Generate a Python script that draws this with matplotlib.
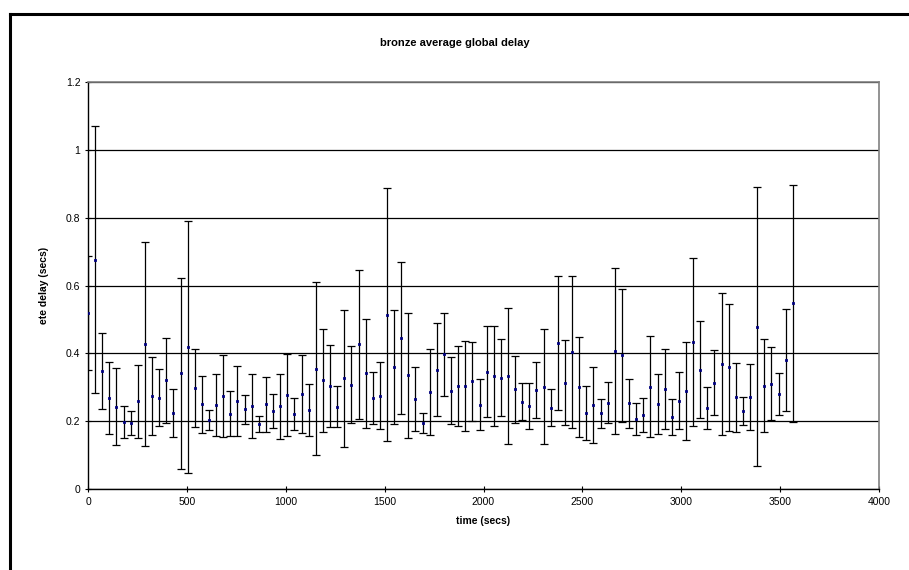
'''
bronze average global delay with error bars
'''

import matplotlib
matplotlib.use('Agg')
import matplotlib.pyplot as plt
from matplotlib.lines import Line2D
from matplotlib.ticker import FuncFormatter

plt.rcParams['font.family'] = ['Liberation Sans', 'DejaVu Sans']

time_secs = [0, 36, 72, 108, 144, 180, 216, 252, 288, 324,
             360, 396, 432, 468, 504, 540, 576, 612, 648, 684,
             720, 756, 792, 828, 864, 900, 936, 972, 1008, 1044,
             1080, 1116, 1152, 1188, 1224, 1260, 1296, 1332, 1368, 1404,
             1440, 1476, 1512, 1548, 1584, 1620, 1656, 1692, 1728, 1764,
             1800, 1836, 1872, 1908, 1944, 1980, 2016, 2052, 2088, 2124,
             2160, 2196, 2232, 2268, 2304, 2340, 2376, 2412, 2448, 2484,
             2520, 2556, 2592, 2628, 2664, 2700, 2736, 2772, 2808, 2844,
             2880, 2916, 2952, 2988, 3024, 3060, 3096, 3132, 3168, 3204,
             3240, 3276, 3312, 3348, 3384, 3420, 3456, 3492, 3528, 3564]

avg_delay = [0.519, 0.676, 0.348, 0.268, 0.243, 0.197, 0.194, 0.259, 0.427, 0.274,
             0.269, 0.320, 0.223, 0.341, 0.419, 0.298, 0.250, 0.203, 0.248, 0.275,
             0.222, 0.260, 0.235, 0.244, 0.192, 0.250, 0.229, 0.244, 0.277, 0.222,
             0.281, 0.233, 0.354, 0.320, 0.303, 0.243, 0.326, 0.308, 0.427, 0.341,
             0.268, 0.275, 0.514, 0.359, 0.444, 0.335, 0.265, 0.194, 0.286, 0.352,
             0.397, 0.290, 0.304, 0.303, 0.317, 0.248, 0.346, 0.333, 0.328, 0.333,
             0.294, 0.257, 0.245, 0.291, 0.302, 0.240, 0.430, 0.313, 0.404, 0.300,
             0.225, 0.247, 0.223, 0.255, 0.407, 0.395, 0.253, 0.207, 0.218, 0.302,
             0.250, 0.295, 0.212, 0.260, 0.288, 0.433, 0.352, 0.240, 0.314, 0.368,
             0.359, 0.270, 0.230, 0.271, 0.479, 0.305, 0.311, 0.280, 0.380, 0.547]

std_delay = [0.167, 0.393, 0.111, 0.106, 0.114, 0.048, 0.036, 0.108, 0.300, 0.115,
             0.084, 0.125, 0.071, 0.281, 0.371, 0.115, 0.084, 0.030, 0.091, 0.121,
             0.066, 0.104, 0.042, 0.095, 0.024, 0.081, 0.050, 0.096, 0.120, 0.047,
             0.115, 0.078, 0.255, 0.152, 0.121, 0.060, 0.203, 0.114, 0.220, 0.160,
             0.076, 0.099, 0.372, 0.168, 0.224, 0.184, 0.095, 0.030, 0.127, 0.137,
             0.123, 0.099, 0.117, 0.132, 0.117, 0.075, 0.135, 0.148, 0.113, 0.200,
             0.099, 0.055, 0.067, 0.082, 0.169, 0.055, 0.198, 0.125, 0.224, 0.147,
             0.080, 0.112, 0.043, 0.061, 0.245, 0.196, 0.072, 0.047, 0.050, 0.148,
             0.088, 0.119, 0.052, 0.084, 0.144, 0.247, 0.143, 0.062, 0.095, 0.209,
             0.187, 0.102, 0.042, 0.098, 0.410, 0.136, 0.107, 0.063, 0.151, 0.349]


def global_delay():
    '''
    average delay per interval with std error bars
    '''
    fig = plt.figure(figsize=(9.09, 5.70), dpi=100)
    W, H = 909.0, 570.0

    # chart border (left and top edges show)
    fig.add_artist(Line2D([10 / W, 10 / W], [0, 1 - 14 / H], transform=fig.transFigure,
                          color='black', lw=2.2))
    fig.add_artist(Line2D([10 / W, 1], [1 - 14 / H, 1 - 14 / H], transform=fig.transFigure,
                          color='black', lw=2.2))

    ax_ = fig.add_axes([88 / W, (H - 489) / H, (879 - 88) / W, (489 - 82) / H])
    ax_.errorbar(time_secs, avg_delay, yerr=std_delay, fmt='none', ecolor='black',
                 elinewidth=0.9, capsize=3.0, capthick=0.9, zorder=3)
    ax_.plot(time_secs, avg_delay, 's', ms=1.6, mew=0.6, mfc='#000080',
             mec='#000080', zorder=4)

    ax_.set_xlim(0, 4000)
    ax_.set_ylim(0, 1.2)
    ax_.set_xticks(range(0, 4001, 500))
    ax_.set_yticks([0, 0.2, 0.4, 0.6, 0.8, 1.0, 1.2])
    ax_.yaxis.set_major_formatter(FuncFormatter(lambda v, p: '%g' % round(v, 2)))
    ax_.grid(axis='y', color='black', lw=0.9)
    ax_.set_axisbelow(True)

    for side in ('top', 'right'):
        ax_.spines[side].set_color('#808080')
        ax_.spines[side].set_linewidth(1.2)
    for side in ('left', 'bottom'):
        ax_.spines[side].set_color('black')
        ax_.spines[side].set_linewidth(1.0)
    ax_.tick_params(direction='inout', length=5, width=0.8, labelsize=7.5, pad=3)

    ax_.set_xlabel('time (secs)', fontsize=7.5, fontweight='bold', labelpad=7)
    ax_.set_ylabel('ete delay (secs)', fontsize=7.5, fontweight='bold', labelpad=12)
    fig.text(455 / W, 1 - 43 / H, 'bronze average global delay', ha='center',
             va='center', fontsize=8, fontweight='bold')

    plt.savefig('out.png', dpi=100)


if __name__ == "__main__":
    global_delay()
